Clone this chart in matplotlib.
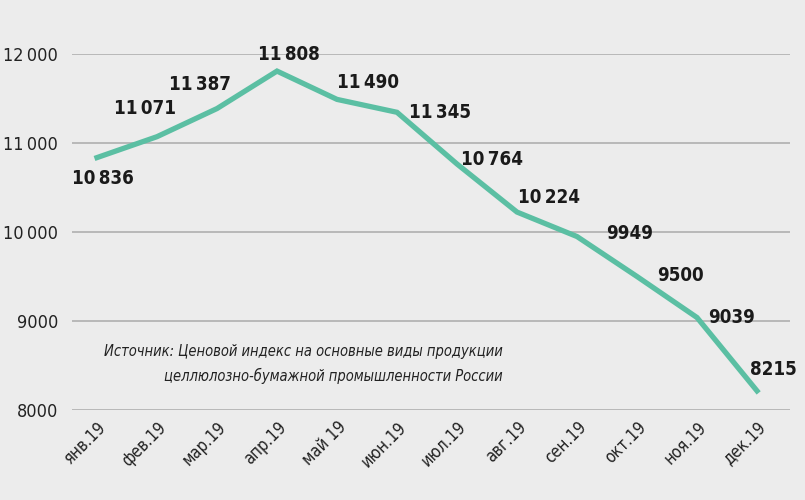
import matplotlib
matplotlib.use("Agg")
import matplotlib.pyplot as plt
import matplotlib.transforms as mtransforms
from matplotlib import font_manager as fm

months = ["янв.19", "фев.19", "мар.19", "апр.19", "май 19", "июн.19",
          "июл.19", "авг.19", "сен.19", "окт.19", "ноя.19", "дек.19"]
values = [10836, 11071, 11387, 11808, 11490, 11345,
          10764, 10224, 9949, 9500, 9039, 8215]
y_ticks = [8000, 9000, 10000, 11000, 12000]
y_tick_labels = ["8000", "9000", "10\u2009000", "11\u2009000", "12\u2009000"]
source = ("Источник: Ценовой индекс на основные виды продукции\n"
          "целлюлозно-бумажной промышленности России")

BG = "#ececec"
LINE = "#5bbfa3"
GRID = "#b4b4b4"

# pick a narrow face if one is installed, the reference uses a condensed font
condensed = [f.name for f in fm.fontManager.ttflist
             if f.stretch == "condensed" or "Narrow" in f.name or "Condensed" in f.name]
if condensed:
    FONT = [condensed[0], "DejaVu Sans"]
    STRETCH = "condensed"
    SCALE = 1.0
else:
    FONT = ["Roboto", "DejaVu Sans"]
    STRETCH = "normal"
    SCALE = 0.9

# label offsets in pixels (dx right, dy down) from each point
label_offsets = [(6, 21), (-12, -28), (-17, -24), (12, -17), (31, -17), (43, 0),
                 (35, -5), (32, -15), (53, -3), (43, -1), (35, 0), (16, -21)]


def fmt(v):
    return f"{v:,}".replace(",", "\u2009") if v >= 10000 else str(v)


fig = plt.figure(figsize=(8.05, 5.0), dpi=100, facecolor=BG)
ax = fig.add_axes([72 / 805, 1 - 410 / 500, (790 - 72) / 805, (410 - 54) / 500])
ax.set_facecolor(BG)

x = list(range(len(months)))
ax.plot(x, values, color=LINE, lw=3.8, solid_joinstyle="miter", zorder=3, clip_on=False)

for i, v in enumerate(values):
    dx, dy = label_offsets[i]
    ax.annotate(fmt(v), (i, v), xytext=(dx * 0.72, -dy * 0.72), textcoords="offset points",
                ha="center", va="center", fontsize=13.5 * SCALE, fontweight="bold",
                family=FONT, fontstretch=STRETCH, color="#1a1a1a", zorder=4)

ax.set_xlim(-25 / 60, (790 - 97) / 60)
ax.set_ylim(8000, 12000)
ax.set_yticks(y_ticks)
ax.set_yticklabels(y_tick_labels, family=FONT, fontstretch=STRETCH,
                   fontsize=13 * SCALE, color="#222222")
ax.set_xticks(x)
ax.set_xticklabels(months, rotation=45, ha="right", rotation_mode="anchor",
                   family=FONT, fontstretch=STRETCH, fontsize=12 * SCALE, color="#222222")
shift = mtransforms.ScaledTranslation(16 / 100, 8 / 100, fig.dpi_scale_trans)
for lab in ax.get_xticklabels():
    lab.set_transform(lab.get_transform() + shift)
ax.tick_params(axis="both", length=0)
ax.tick_params(axis="y", pad=10)
ax.tick_params(axis="x", pad=6)
ax.grid(axis="y", color=GRID, lw=1.3)
ax.set_axisbelow(True)
for s in ax.spines.values():
    s.set_visible(False)

fig.text(503 / 805, 1 - 364 / 500, source, ha="right", va="center", style="italic",
         family=FONT, fontstretch=STRETCH, fontsize=10.5 * SCALE, color="#222222",
         linespacing=1.6)

fig.savefig("out.png", dpi=100, facecolor=BG)
